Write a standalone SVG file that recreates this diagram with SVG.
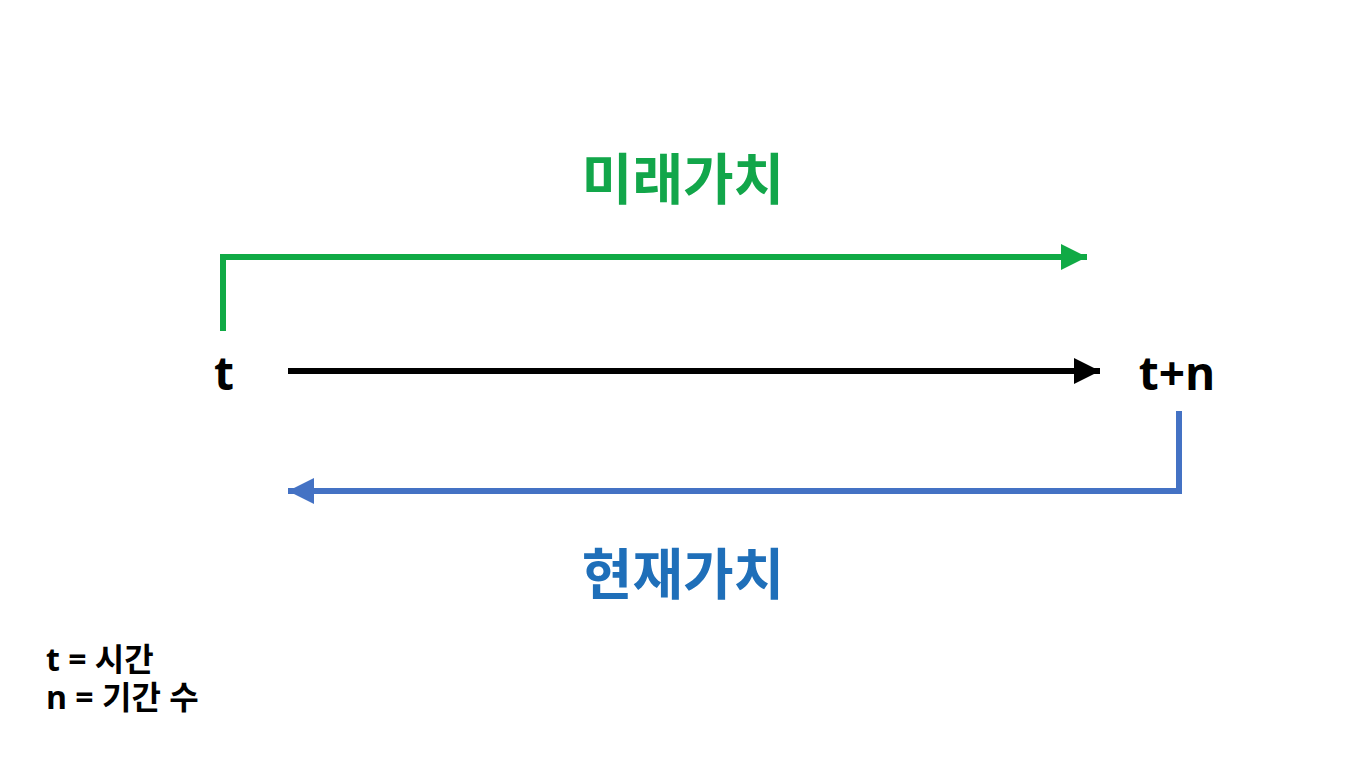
<svg xmlns="http://www.w3.org/2000/svg" width="1365" height="768" viewBox="0 0 1365 768">
<style>
text{font-family:"Open Sans","Noto Sans CJK KR",sans-serif;font-weight:bold}
.big{font-size:55px}
.lbl{font-size:46px;fill:#000}
.leg{font-size:32px;fill:#000}
</style>
<defs>
<marker id="ag" markerUnits="userSpaceOnUse" markerWidth="26" markerHeight="26" refX="26" refY="13" orient="auto"><path d="M0,0 L26,13 L0,26 Z" fill="#10aa45"/></marker>
<marker id="ak" markerUnits="userSpaceOnUse" markerWidth="26" markerHeight="26" refX="26" refY="13" orient="auto"><path d="M0,0 L26,13 L0,26 Z" fill="#000"/></marker>
<marker id="ab" markerUnits="userSpaceOnUse" markerWidth="26" markerHeight="26" refX="26" refY="13" orient="auto"><path d="M0,0 L26,13 L0,26 Z" fill="#4472c4"/></marker>
</defs>
<rect width="1365" height="768" fill="#fff"/>
<g id="connectors" fill="none" stroke-width="6">
<path d="M223,331 V257 H1087" stroke="#10aa45" marker-end="url(#ag)"/>
<path d="M288,371 H1100" stroke="#000" marker-end="url(#ak)"/>
<path d="M1179,411 V491 H288" stroke="#4472c4" marker-end="url(#ab)"/>
</g>
<g id="fv"><text class="big" x="683" y="199" text-anchor="middle" fill="#12a64a">미래가치</text></g>
<g id="pv"><text class="big" x="683" y="594" text-anchor="middle" fill="#1f6fb9">현재가치</text></g>
<g id="t"><text class="lbl" x="224" y="390" text-anchor="middle">t</text></g>
<g id="tn"><text class="lbl" x="1177" y="390" text-anchor="middle">t+n</text></g>
<g id="legend"><text class="leg" x="46" y="671">t = 시간</text><text class="leg" x="46" y="709">n = 기간 수</text></g>
</svg>
